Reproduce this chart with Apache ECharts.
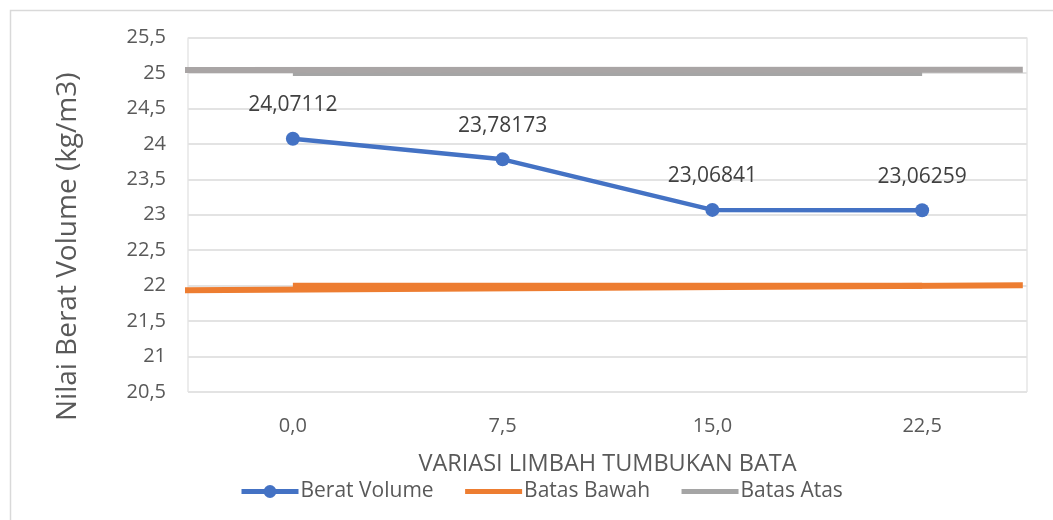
<html>
<head>
    <meta charset="utf-8">
    <script src="https://cdn.jsdelivr.net/npm/echarts@6/dist/echarts.min.js"></script>
    <style>
        body { margin: 0; background: #fff; }
        #chart { width: 1053px; height: 520px; }
    </style>
</head>
<body>
    <div id="chart"></div>
    <script>
        // data
        var categories = ['0,0', '7,5', '15,0', '22,5'];
        var beratVolume = [24.07112, 23.78173, 23.06841, 23.06259];
        var batasBawah = [22, 22, 22, 22];
        var batasAtas = [25, 25, 25, 25];
        // the edge-to-edge lines drawn over the plot ([x from 0 to 1 across plot, y])
        var bawahEdge = [[-0.007, 21.936], [0.995, 22.007]];
        var atasEdge = [[-0.007, 25.042], [0.995, 25.045]];

        var font = 'Open Sans';
        function koma(v) { return String(v).replace('.', ','); }

        var myChart = echarts.init(document.getElementById('chart'));
        var option = {
            animation: false,
            textStyle: { fontFamily: font },
            graphic: [{
                type: 'rect',
                shape: { x: 10.5, y: 10.5, width: 1060, height: 520 },
                style: { fill: 'none', stroke: '#d9d9d9', lineWidth: 1.5 }
            }],
            grid: {
                left: 188,
                right: 26,
                top: 37.5,
                bottom: 128,
                show: true,
                borderColor: '#d9d9d9',
                borderWidth: 1
            },
            legend: {
                data: [
                    { name: 'Berat Volume' },
                    { name: 'Batas Bawah', itemStyle: { opacity: 0 } },
                    { name: 'Batas Atas', itemStyle: { opacity: 0 } }
                ],
                top: 476,
                left: 234,
                itemWidth: 57,
                itemHeight: 16,
                itemGap: 29,
                lineStyle: { width: 5 },
                textStyle: { fontSize: 21, color: '#595959', fontFamily: font, padding: [0, 0, 0, -3] }
            },
            xAxis: [{
                type: 'category',
                data: categories,
                name: 'VARIASI LIMBAH TUMBUKAN BATA',
                nameLocation: 'middle',
                nameGap: 60,
                nameTextStyle: { fontSize: 23.5, color: '#595959' },
                axisLine: { show: false },
                axisTick: { show: false },
                axisLabel: { fontSize: 20, color: '#595959', margin: 24 }
            }, {
                type: 'value',
                min: 0,
                max: 1,
                show: false
            }],
            yAxis: {
                type: 'value',
                min: 20.5,
                max: 25.5,
                interval: 0.5,
                name: 'Nilai Berat Volume (kg/m3)',
                nameLocation: 'middle',
                nameGap: 106,
                nameTextStyle: { fontSize: 28, color: '#595959', padding: [0, 64, 0, 0] },
                axisLine: { show: false },
                axisTick: { show: false },
                axisLabel: {
                    fontSize: 20,
                    color: '#595959',
                    margin: 22,
                    formatter: koma
                },
                splitLine: { lineStyle: { color: '#e3e3e3', width: 2 } }
            },
            series: [
                {
                    name: 'Batas Atas',
                    type: 'line',
                    data: batasAtas,
                    symbol: 'none',
                    lineStyle: { color: '#a5a5a5', width: 6 },
                    itemStyle: { color: '#a5a5a5' },
                    z: 2
                },
                {
                    name: 'Batas Atas Garis',
                    type: 'line',
                    xAxisIndex: 1,
                    data: atasEdge,
                    symbol: 'none',
                    clip: false,
                    lineStyle: { color: '#a9a5a5', width: 6 },
                    z: 2
                },
                {
                    name: 'Batas Bawah',
                    type: 'line',
                    data: batasBawah,
                    symbol: 'none',
                    lineStyle: { color: '#ed7d31', width: 6 },
                    itemStyle: { color: '#ed7d31' },
                    z: 3
                },
                {
                    name: 'Batas Bawah Garis',
                    type: 'line',
                    xAxisIndex: 1,
                    data: bawahEdge,
                    symbol: 'none',
                    clip: false,
                    lineStyle: { color: '#ed7d31', width: 6 },
                    z: 3
                },
                {
                    name: 'Berat Volume',
                    type: 'line',
                    data: beratVolume,
                    symbol: 'circle',
                    symbolSize: 14,
                    lineStyle: { color: '#4472c4', width: 4.5 },
                    itemStyle: { color: '#4472c4' },
                    label: {
                        show: true,
                        position: 'top',
                        distance: 16,
                        fontSize: 21,
                        color: '#404040',
                        formatter: function (p) { return koma(p.value); }
                    },
                    z: 5
                }
            ]
        };
        myChart.setOption(option);
    </script>
</body>
</html>
